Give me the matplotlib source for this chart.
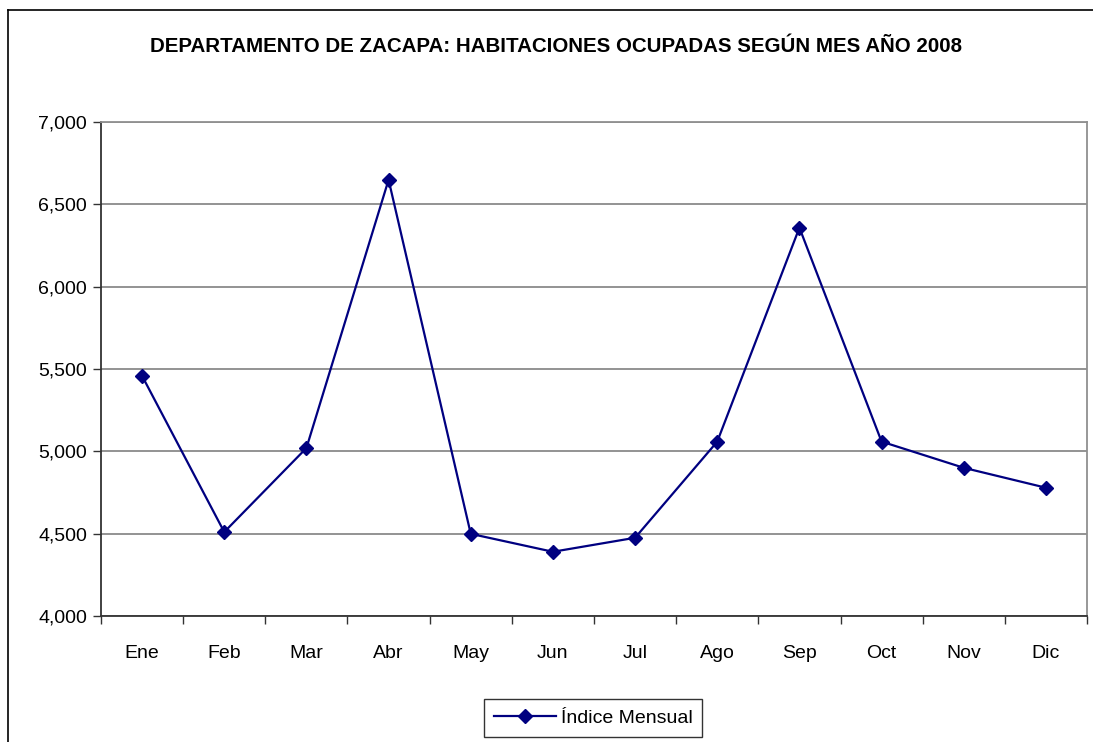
import matplotlib
matplotlib.use("Agg")
import matplotlib.pyplot as plt
from matplotlib.lines import Line2D
from matplotlib.ticker import FuncFormatter, FixedLocator

months = ["Ene", "Feb", "Mar", "Abr", "May", "Jun", "Jul", "Ago", "Sep", "Oct", "Nov", "Dic"]
values = [5458, 4510, 5020, 6649, 4499, 4390, 4475, 5059, 6358, 5059, 4900, 4779]
y_ticks = [4000, 4500, 5000, 5500, 6000, 6500, 7000]
title = "DEPARTAMENTO DE ZACAPA: HABITACIONES OCUPADAS SEGÚN MES AÑO 2008"
series_label = "Índice Mensual"

plt.rcParams['font.family'] = ['Liberation Sans', 'DejaVu Sans']

W, H = 1093, 742
fig = plt.figure(figsize=(W / 100, H / 100), dpi=100)

# plot area in pixels
left, right, top, bottom = 101, 1087, 122, 616
ax = fig.add_axes([left / W, 1 - bottom / H, (right - left) / W, (bottom - top) / H])

x = list(range(len(months)))
ax.plot(x, values, color="#000080", linewidth=1.6, marker="D", markersize=7,
        markerfacecolor="#000080", markeredgecolor="#000080", label=series_label)

ax.set_xlim(-0.5, len(months) - 0.5)
ax.set_ylim(y_ticks[0], y_ticks[-1])
ax.set_yticks(y_ticks)
ax.yaxis.set_major_formatter(FuncFormatter(lambda v, p: f"{int(v):,}"))
ax.grid(axis="y", color="#808080", linewidth=1.2)
ax.set_axisbelow(True)

# category boundaries ticks, labels at centres
ax.xaxis.set_major_locator(FixedLocator([i - 0.5 for i in range(len(months) + 1)]))
ax.xaxis.set_minor_locator(FixedLocator(x))
ax.set_xticklabels([])
ax.set_xticklabels(months, minor=True)
ax.tick_params(axis="x", which="major", length=6, width=1, color="#333333", direction="out")
ax.tick_params(axis="x", which="minor", length=0, pad=21, labelsize=14)
ax.tick_params(axis="y", length=6, width=1, color="#333333", direction="out", labelsize=14, pad=4)

for s in ["left", "bottom"]:
    ax.spines[s].set_color("#333333")
    ax.spines[s].set_linewidth(1.3)
for s in ["top", "right"]:
    ax.spines[s].set_color("#909090")
    ax.spines[s].set_linewidth(1.3)

fig.text(556 / W, 1 - 46 / H, title, ha="center", va="center", fontsize=14.8,
         fontweight="bold")

# chart area border (top and left)
fig.add_artist(Line2D([8 / W, 8 / W], [0, 1 - 10 / H], transform=fig.transFigure,
                      color="black", linewidth=1.2))
fig.add_artist(Line2D([8 / W, 1], [1 - 10 / H, 1 - 10 / H], transform=fig.transFigure,
                      color="black", linewidth=1.2))

leg = fig.legend(loc="center", bbox_to_anchor=(593 / W, 1 - 718 / H), fontsize=14,
                 frameon=True, fancybox=False, edgecolor="black", handlelength=3.2,
                 borderpad=0.5, handletextpad=0.25, borderaxespad=0)
leg.get_frame().set_linewidth(1.0)

fig.savefig("out.png", dpi=100, facecolor="white")
